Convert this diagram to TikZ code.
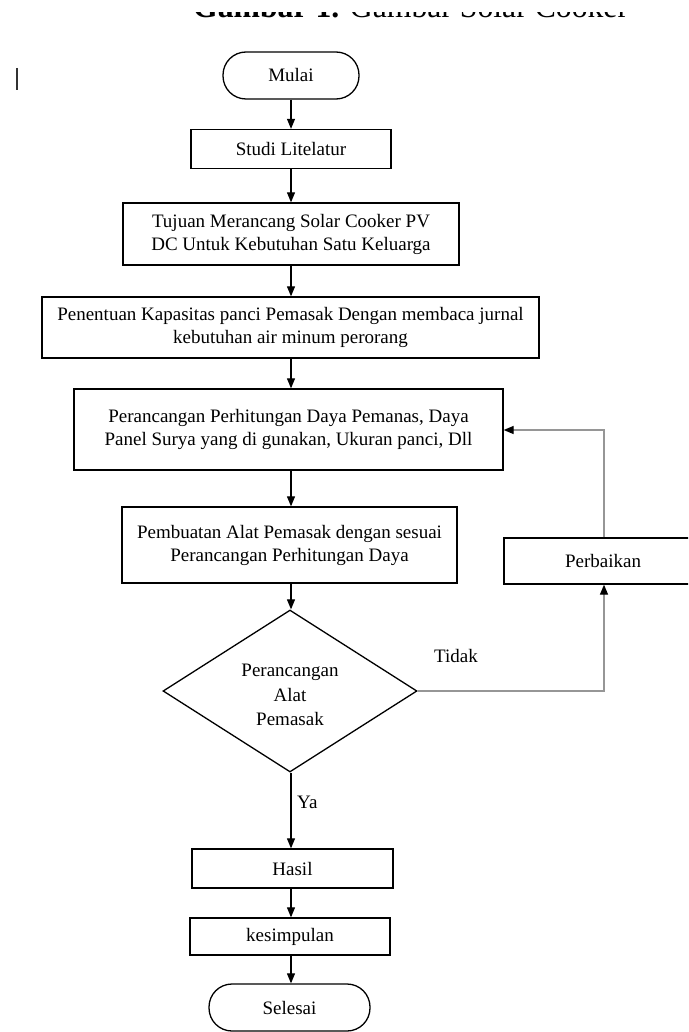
\documentclass[tikz,border=0pt]{standalone}
\usepackage{fontspec}
\setmainfont{Liberation Serif}
\usetikzlibrary{shapes.geometric,arrows.meta}
\definecolor{linegray}{RGB}{150,150,150}
\tikzset{
  box/.style={draw=black, line width=1.3pt, rectangle, inner sep=0pt, align=center,
    font=\fontsize{19}{23}\selectfont},
  term/.style={box, rounded corners=23pt},
  dec/.style={draw=black, line width=1.3pt, diamond, inner sep=0pt},
  dectext/.style={inner sep=0pt, align=center, font=\fontsize{19}{24.5}\selectfont},
  arr/.style={draw=black, line width=1.1pt, -{Triangle[length=10pt,width=8pt]}},
  garr/.style={draw=linegray, line width=1.3pt, -{Triangle[length=10pt,width=8pt,color=black]}},
  lbl/.style={font=\fontsize{19}{23}\selectfont, inner sep=0pt}
}
\begin{document}
\begin{tikzpicture}[x=1pt,y=-1pt]
\clip (0,0) rectangle (688,1032);
\useasboundingbox (0,0) rectangle (688,1032);
% title, cut off at the top edge
\node[anchor=base west, inner sep=0pt, font=\fontsize{31.7}{34}\selectfont] (title) at (193,18)
  {\textbf{Gambar 1.} Gambar Solar Cooker};
\fill[white] (0,-5) rectangle (688,12);
% stray mark
\coordinate (m1) at (17,68);
\coordinate (m2) at (17,90);
\draw[line width=2pt, black!80] (m1) -- (m2);

\node[term, minimum width=136pt, minimum height=47pt] (mulai) at (291,75.5) {Mulai};
\node[box, minimum width=200pt, minimum height=39pt] (studi) at (291,149) {Studi Litelatur};
\node[box, minimum width=336pt, minimum height=62pt] (tujuan) at (291,234)
  {Tujuan Merancang Solar Cooker PV\\DC Untuk Kebutuhan Satu Keluarga};
\node[box, minimum width=497pt, minimum height=61pt] (penentuan) at (290.5,327.5)
  {Penentuan Kapasitas panci Pemasak Dengan membaca jurnal\\kebutuhan air minum perorang};
\node[box, minimum width=429pt, minimum height=81pt, text depth=4pt] (perancangan) at (288.5,429.5)
  {Perancangan Perhitungan Daya Pemanas, Daya\\Panel Surya yang di gunakan, Ukuran panci, Dll};
\node[box, minimum width=335pt, minimum height=76pt, text depth=4pt] (pembuatan) at (289.5,545)
  {Pembuatan Alat Pemasak dengan sesuai\\Perancangan Perhitungan Daya};
\node[box, minimum width=198pt, minimum height=46pt] (perbaikan) at (603,561) {Perbaikan};
\node[dec, minimum width=254pt, minimum height=162pt] (cek) at (290,691) {};
\node[dectext] (cektext) at (290,695) {Perancangan\\Alat\\Pemasak};
\node[box, minimum width=201pt, minimum height=39pt] (hasil) at (292.5,868.5) {Hasil};
\node[box, minimum width=200pt, minimum height=37pt] (kesimpulan) at (290,936.5) {kesimpulan};
\node[term, minimum width=161pt, minimum height=47pt] (selesai) at (289.5,1007.5) {Selesai};

\draw[arr] (mulai.south -| 291,0) -- (studi.north -| 291,0);
\draw[arr] (studi.south -| 291,0) -- (tujuan.north -| 291,0);
\draw[arr] (tujuan.south -| 291,0) -- (penentuan.north -| 291,0);
\draw[arr] (penentuan.south -| 291,0) -- (perancangan.north -| 291,0);
\draw[arr] (perancangan.south -| 291,0) -- (pembuatan.north -| 291,0);
\draw[arr] (pembuatan.south -| 291,0) -- (cek.north -| 291,0);
\draw[arr] (cek.south -| 291,0) -- (hasil.north -| 291,0);
\draw[arr] (hasil.south -| 291,0) -- (kesimpulan.north -| 291,0);
\draw[arr] (kesimpulan.south -| 291,0) -- (selesai.north -| 291,0);

\draw[garr] (cek.east) -- (cek.east -| 604,0) -- (perbaikan.south -| 604,0);
\draw[garr] (perbaikan.north -| 604,0) -- (604,430) -- (perancangan.east |- 0,430);

\node[lbl, anchor=west] (tidak) at (434,656) {Tidak};
\node[lbl, anchor=west] (ya) at (297,802) {Ya};
\end{tikzpicture}
\end{document}
